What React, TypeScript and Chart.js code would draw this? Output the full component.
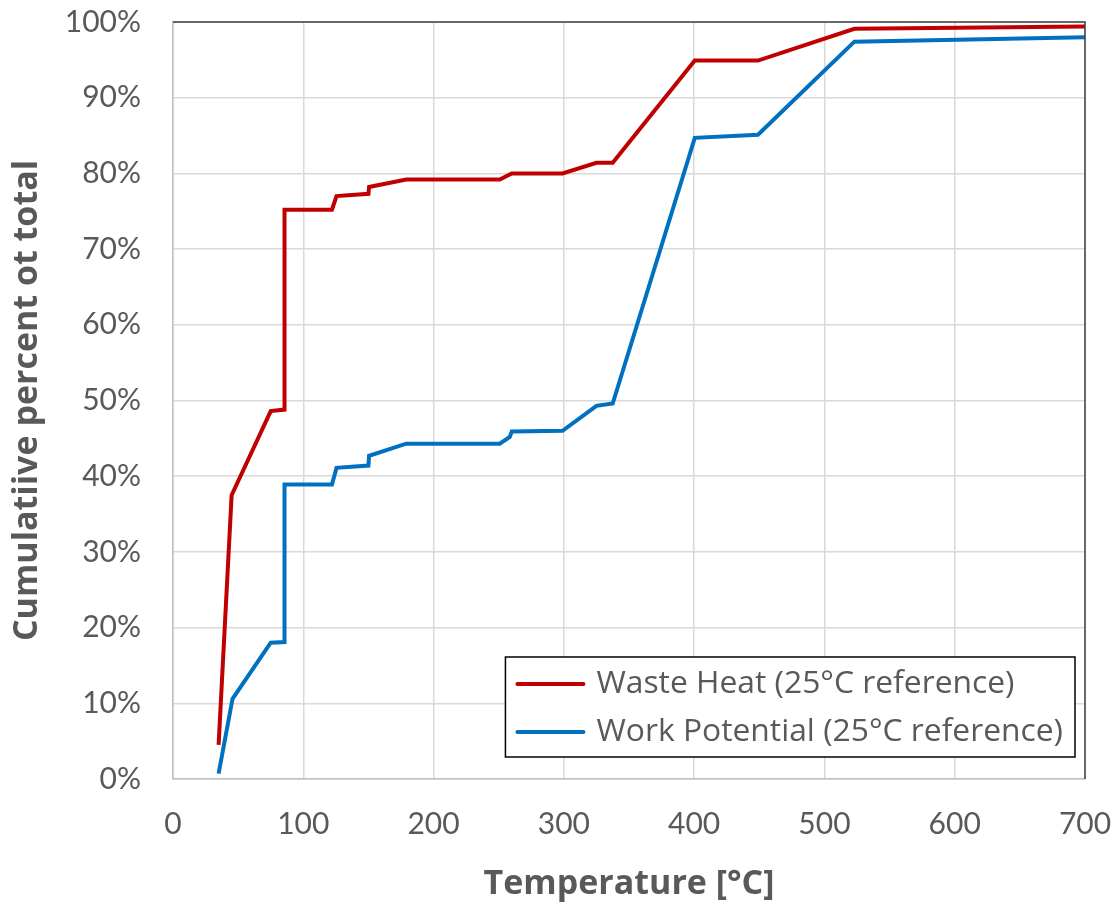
import React, { useEffect, useRef } from "react";
import { Chart, registerables } from "chart.js";

Chart.register(...registerables);

const wasteLabel = "Waste Heat (25°C reference)";
const workLabel = "Work Potential (25°C reference)";

const wasteX = [35, 45, 75, 85.6, 85.6, 122, 125.5, 150, 150.5, 179, 250.8, 260, 299, 325, 337.5, 400.5, 449, 523, 700];
const wasteY = [4.5, 37.5, 48.6, 48.8, 75.2, 75.2, 77.0, 77.3, 78.2, 79.2, 79.2, 80.0, 80.0, 81.4, 81.4, 94.9, 94.9, 99.1, 99.4];

const workX = [35, 45.7, 75, 85.6, 85.6, 122, 125.5, 150, 150.5, 179, 250.8, 258.5, 260, 299, 325, 337.5, 400.5, 449, 523, 700];
const workY = [0.7, 10.6, 18.0, 18.1, 38.9, 38.9, 41.1, 41.4, 42.7, 44.3, 44.3, 45.2, 45.9, 46.0, 49.3, 49.6, 84.7, 85.1, 97.4, 98.0];

const xTitle = "Temperature [°C]";
const yTitle = "Cumulatiive percent ot total";

const RED = "#c00000";
const BLUE = "#0070c0";
const TEXT = "#595959";
const TICK_FONT = "Lato";
const TITLE_FONT = "'Open Sans'";
const LEGEND_FONT = "'Open Sans'";

const toPoints = (xs: number[], ys: number[]) => xs.map((x, i) => ({ x, y: ys[i] }));

const zeroPad = (scale: any) => {
  scale.paddingTop = 0;
  scale.paddingBottom = 0;
  scale.paddingLeft = 0;
  scale.paddingRight = 0;
};

const frameAndLegend = {
  id: "frameAndLegend",
  afterDraw(chart: any) {
    const { ctx, chartArea } = chart;
    ctx.save();
    ctx.strokeStyle = "#404040";
    ctx.lineWidth = 1.5;
    ctx.beginPath();
    ctx.moveTo(chartArea.left, chartArea.top);
    ctx.lineTo(chartArea.right, chartArea.top);
    ctx.lineTo(chartArea.right, chartArea.bottom);
    ctx.stroke();

    const ds = chart.data.datasets;
    ctx.font = `31.8px ${LEGEND_FONT}`;
    const widths = ds.map((d: any) => ctx.measureText(d.label).width);
    const textW = Math.max(...widths);
    const lineLen = 66;
    const padL = 12;
    const gap = 13;
    const padR = 12;
    const rowH = 48;
    const boxW = padL + lineLen + gap + textW + padR;
    const boxH = rowH * ds.length + 4;
    const right = chartArea.right - 10;
    const bottom = chartArea.bottom - 22;
    const left = right - boxW;
    const top = bottom - boxH;
    ctx.fillStyle = "#ffffff";
    ctx.fillRect(left, top, boxW, boxH);
    ctx.strokeStyle = "#000000";
    ctx.lineWidth = 1.5;
    ctx.strokeRect(left, top, boxW, boxH);
    ds.forEach((d: any, i: number) => {
      const cy = top + 2 + rowH * i + rowH / 2 + 1;
      ctx.strokeStyle = d.borderColor;
      ctx.lineWidth = 4;
      ctx.lineCap = "round";
      ctx.beginPath();
      ctx.moveTo(left + padL, cy);
      ctx.lineTo(left + padL + lineLen, cy);
      ctx.stroke();
      ctx.fillStyle = TEXT;
      ctx.textBaseline = "middle";
      ctx.textAlign = "left";
      ctx.fillText(d.label, left + padL + lineLen + gap, cy);
    });
    ctx.restore();
  },
};

export default function App() {
  const ref = useRef<HTMLCanvasElement | null>(null);

  useEffect(() => {
    document.body.style.margin = "0";
    if (!ref.current) return;
    const chart = new Chart(ref.current, {
      type: "line",
      data: {
        datasets: [
          {
            label: wasteLabel,
            data: toPoints(wasteX, wasteY),
            borderColor: RED,
            backgroundColor: RED,
            borderWidth: 4,
            pointRadius: 0,
            tension: 0,
          },
          {
            label: workLabel,
            data: toPoints(workX, workY),
            borderColor: BLUE,
            backgroundColor: BLUE,
            borderWidth: 4,
            pointRadius: 0,
            tension: 0,
          },
        ],
      },
      options: {
        animation: false,
        responsive: false,
        devicePixelRatio: 1,
        layout: { padding: { top: 22, right: 30, left: 0, bottom: 0 } },
        plugins: {
          legend: { display: false },
          tooltip: { enabled: false },
        },
        scales: {
          x: {
            type: "linear",
            min: 0,
            max: 700,
            ticks: {
              stepSize: 100,
              color: TEXT,
              font: { family: TICK_FONT, size: 30 },
              padding: 27,
              maxRotation: 0,
            },
            grid: { color: "#d9d9d9", lineWidth: 1.5, drawTicks: false },
            border: { color: "#bfbfbf", width: 1.5 },
            title: {
              display: true,
              text: xTitle,
              color: TEXT,
              font: { family: TITLE_FONT, size: 34, weight: "bold" },
              padding: { top: 0, bottom: 0 },
            },
            afterFit: (scale: any) => {
              scale.height = 905 - 779;
              zeroPad(scale);
            },
          },
          y: {
            type: "linear",
            min: 0,
            max: 100,
            ticks: {
              stepSize: 10,
              color: TEXT,
              font: { family: TICK_FONT, size: 30 },
              padding: 32,
              callback: (v: any) => `${v}%`,
            },
            grid: { color: "#d9d9d9", lineWidth: 1.5, drawTicks: false },
            border: { color: "#bfbfbf", width: 1.5 },
            title: {
              display: true,
              text: yTitle,
              color: TEXT,
              font: { family: TITLE_FONT, size: 34, weight: "bold" },
              padding: { top: 7, bottom: 0 },
            },
            afterFit: (scale: any) => {
              scale.width = 173;
              zeroPad(scale);
            },
          },
        },
      },
      plugins: [frameAndLegend],
    });
    return () => chart.destroy();
  }, []);

  return (
    <div style={{ width: 1115, height: 905 }}>
      <canvas ref={ref} width={1115} height={905} style={{ display: "block" }} />
    </div>
  );
}
